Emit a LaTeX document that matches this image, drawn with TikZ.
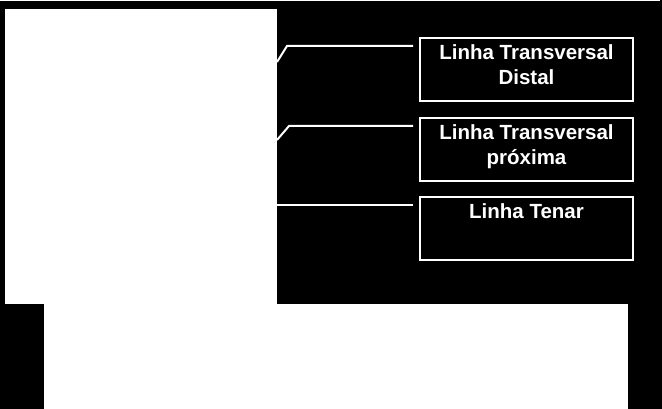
\documentclass[tikz,border=0pt]{standalone}
\usepackage{fontspec}
\setmainfont{Liberation Sans}
\usetikzlibrary{%
  positioning,% wg. " of "
  backgrounds%
}

\begin{document}
\begin{tikzpicture}[
    x=1pt, y=-1pt,
    caixa/.style={draw=white, line width=2pt, minimum width=213pt, minimum height=63pt, inner sep=0pt},
    rotulo/.style={text=white, font=\bfseries\fontsize{20.5}{25.5}\selectfont, align=center, inner sep=0pt},
    linha/.style={draw=white, line width=2pt}
  ]
  % fundo
  \useasboundingbox (0,0) rectangle (662,409);
  \fill[black] (0,0) rectangle (662,409);
  \fill[white] (0,0) rectangle (660,1);

  % area da imagem
  \fill[white] (5,9) rectangle (277,304);
  \fill[white] (44,304) rectangle (628,409);

  % draw boxes
  \node[caixa] at (526.5,69.5) (c1) {};
  \node[caixa] at (526.5,149.5) (c2) {};
  \node[caixa] at (526.5,228.5) (c3) {};
  \node[rotulo, below=7pt of c1.north] (t1) {Linha Transversal\\Distal};
  \node[rotulo, below=7pt of c2.north] (t2) {Linha Transversal\\próxima};
  \node[rotulo, below=7pt of c3.north] (t3) {Linha Tenar};

  % draw connections
  \coordinate (m1) at (277,62);
  \coordinate (m2) at (277,140);
  \coordinate (m3) at (277,205);
  \path[linha] ([xshift=-6pt,yshift=-9pt]c1.north west) -- ++(-126,0) -- (m1);
  \path[linha] ([xshift=-6pt,yshift=-9pt]c2.north west) -- ++(-124,0) -- (m2);
  \path[linha] ([xshift=-6pt,yshift=-9pt]c3.north west) -- (m3);
\end{tikzpicture}
\end{document}
